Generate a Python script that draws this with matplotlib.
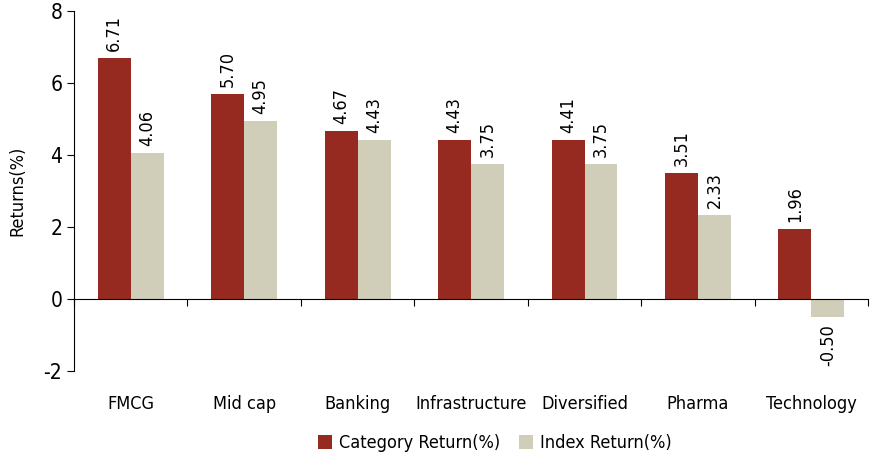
import matplotlib
matplotlib.use("Agg")
import matplotlib.pyplot as plt
import numpy as np
from matplotlib import font_manager

categories = ["FMCG", "Mid cap", "Banking", "Infrastructure", "Diversified", "Pharma", "Technology"]
category_return = [6.71, 5.70, 4.67, 4.43, 4.41, 3.51, 1.96]
index_return = [4.06, 4.95, 4.43, 3.75, 3.75, 2.33, -0.50]
series_names = ["Category Return(%)", "Index Return(%)"]

names = {f.name for f in font_manager.fontManager.ttflist}
fam = ['Liberation Sans Narrow', 'DejaVu Sans'] if 'Liberation Sans Narrow' in names else ['DejaVu Sans']
plt.rcParams['font.family'] = fam
plt.rcParams['font.stretch'] = 'condensed'

red = "#962A20"
beige = "#D0CDB9"

fig = plt.figure(figsize=(8.76, 4.61), dpi=100)
ax = fig.add_axes([0.0845, 0.195, 0.9065, 0.781])

x = np.arange(len(categories))
w = 0.29
b1 = ax.bar(x - w/2, category_return, w, color=red, label=series_names[0])
b2 = ax.bar(x + w/2, index_return, w, color=beige, label=series_names[1])

fs_val = 13
for rect, v in zip(list(b1) + list(b2), category_return + index_return):
    cx = rect.get_x() + rect.get_width()/2
    if v >= 0:
        ax.annotate(f"{v:.2f}", (cx, v), xytext=(0, 5), textcoords="offset points",
                    rotation=90, ha="center", va="bottom", fontsize=fs_val)
    else:
        ax.annotate(f"{v:.2f}", (cx, v), xytext=(0, -5), textcoords="offset points",
                    rotation=90, ha="center", va="top", fontsize=fs_val)

ax.set_xlim(-0.5, len(categories) - 0.5)
ax.set_ylim(-2, 8)
ax.set_yticks([-2, 0, 2, 4, 6, 8])
ax.set_yticklabels(["-2", "0", "2", "4", "6", "8"], fontsize=15)
ax.spines['top'].set_visible(False)
ax.spines['right'].set_visible(False)
ax.spines['bottom'].set_position(('data', 0))
ax.set_xticks(np.arange(len(categories) + 1) - 0.5)
ax.set_xticklabels([])
ax.tick_params(axis='x', direction='out', length=5)
ax.tick_params(axis='y', direction='out', length=5)

for i, c in enumerate(categories):
    ax.text(i, -2.9, c, ha="center", va="center", fontsize=13)

ax.set_ylabel("Returns(%)", fontsize=13)
ax.yaxis.set_label_coords(-0.06, 0.5)

ax.legend(loc="center", bbox_to_anchor=(0.53, -0.2), ncol=2, frameon=False,
          fontsize=13, handlelength=0.8, handleheight=0.8, handletextpad=0.4, columnspacing=1.0)

fig.savefig("out.png", dpi=100)
